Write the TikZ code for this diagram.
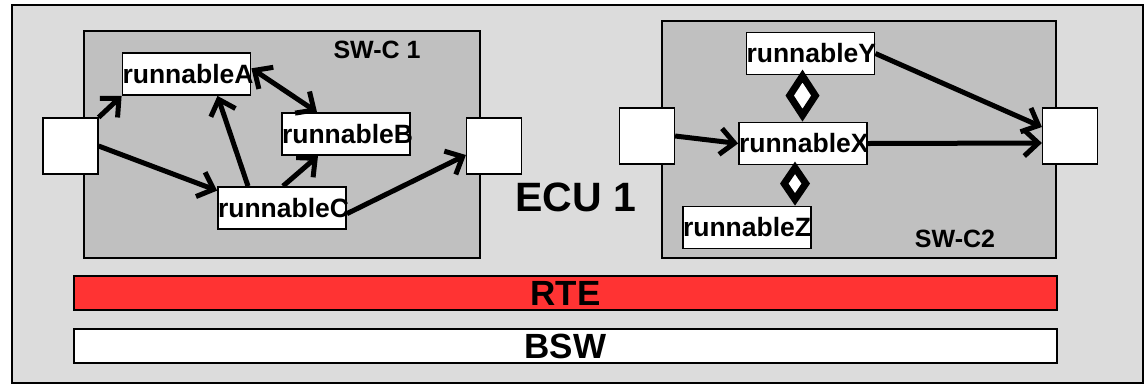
\documentclass[tikz,border=0pt]{standalone}
\usepackage{fontspec}
\setmainfont{Liberation Sans}
\usetikzlibrary{arrows.meta}
\definecolor{ecugray}{RGB}{220,220,220}
\definecolor{swcgray}{RGB}{192,192,192}
\definecolor{rtered}{RGB}{255,51,51}
\begin{document}
\begin{tikzpicture}[x=1pt, y=-1pt,
		runnable/.style={draw, line width=1.8pt, fill=white, inner sep=0pt, text width=128pt, align=center, minimum height=42pt, font=\fontsize{26.5}{26.5}\selectfont\bfseries},
		port/.style={draw, line width=1.2pt, fill=white, inner sep=0pt, minimum width=55pt, minimum height=56pt},
		swc/.style={draw, line width=1.8pt, fill=swcgray},
		layer/.style={draw, line width=1.8pt, inner sep=0pt, font=\fontsize{35}{35}\selectfont\bfseries},
		flow/.style={line width=5pt, -{Straight Barb[length=14pt, width=26pt]}},
		flowboth/.style={line width=5pt, {Straight Barb[length=14pt, width=26pt]}-{Straight Barb[length=14pt, width=26pt]}},
		diam/.style={line width=3pt, -{Diamond[length=52pt, width=34pt, fill=white, line width=7pt]}},
		diamsmall/.style={line width=3pt, -{Diamond[length=44pt, width=30pt, fill=white, line width=7pt]}}]
	\useasboundingbox (0,0) rectangle (1145,384);
	% ECU Rahmen
	\draw[line width=1.8pt, fill=ecugray] (12,5) rectangle (1143,383);
	\node[font=\fontsize{41}{41}\selectfont\bfseries] (ecu) at (576,197.5) {ECU 1};
	% Schichten
	\node[layer, fill=rtered, minimum width=983pt, minimum height=34pt] (rte) at (565.5,293) {RTE};
	\node[layer, fill=white, minimum width=983pt, minimum height=34pt] (bsw) at (565.5,346) {BSW};
	% SW-C 1
	\draw[swc] (84,31) rectangle (480,258);
	\node[font=\fontsize{25}{25}\selectfont\bfseries] (swc1) at (377,50) {SW-C 1};
	\node[port] (in1) at (70.5,146) {};
	\node[port] (out1) at (494,146) {};
	\node[runnable] (A) at (186.5,74) {runnableA};
	\node[runnable] (B) at (346,134) {runnableB};
	\node[runnable] (C) at (282,208) {runnableC};
	\draw[flow] (in1.north east) -- (A.south west);
	\draw[flow] (in1.east) -- (C.165);
	\draw[flow] ([xshift=-34pt]C.north) -- ([xshift=31pt]A.south);
	\draw[flow] ([xshift=1pt]C.north) -- ([xshift=-28pt]B.south);
	\draw[flowboth] (A.5) -- ([xshift=-29pt]B.north);
	\draw[flow] (C.-5) -- ([yshift=-9pt]out1.west);
	% SW-C2
	\draw[swc] (662,21) rectangle (1056,258);
	\node[font=\fontsize{25}{25}\selectfont\bfseries] (swc2) at (955,239) {SW-C2};
	\node[port] (in2) at (647,136) {};
	\node[port] (out2) at (1070,136) {};
	\node[runnable] (Y) at (810.5,53.5) {runnableY};
	\node[runnable] (X) at (803,143.5) {runnableX};
	\node[runnable] (Z) at (747,227.5) {runnableZ};
	\draw[flow] (in2.east) -- (X.west);
	\draw[flow] (Y.east) -- ([yshift=9pt]out2.west);
	\draw[flow] (X.east) -- ([yshift=-7pt]out2.west);
	\draw[diam] ([xshift=-8pt]Y.south) -- ([xshift=-8pt]Y.south |- X.north);
	\draw[diamsmall] ([xshift=-8pt]X.south) -- ([xshift=-8pt]X.south |- Z.north);
\end{tikzpicture}
\end{document}
